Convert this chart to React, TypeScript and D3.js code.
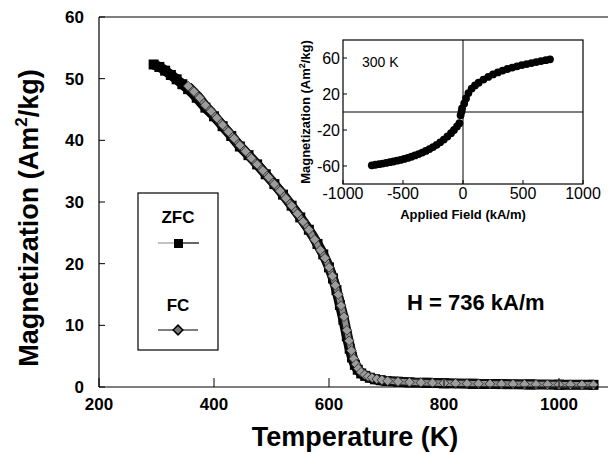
import React, { useEffect, useRef } from "react";
import * as d3 from "d3";

// main plot: magnetization vs temperature
const zfcTemp = [295, 305, 315, 325, 335, 345, 355, 370, 385, 400, 415, 430, 445, 460, 475, 490, 505, 520, 535, 550, 565, 580, 590, 600, 607, 613, 619, 625, 631, 636, 640, 645, 650, 656, 663, 671, 680, 690, 700, 720, 740, 770, 800, 850, 900, 950, 1000, 1060];
const zfcMag = [52.3, 51.9, 51.3, 50.6, 49.9, 49.1, 48.3, 46.9, 45.3, 43.9, 42.3, 40.7, 39.0, 37.6, 36.1, 34.5, 32.9, 31.2, 29.4, 27.5, 25.5, 23.2, 21.5, 19.4, 17.6, 15.7, 13.3, 10.9, 8.2, 6.2, 4.8, 3.6, 2.8, 2.2, 1.8, 1.5, 1.25, 1.1, 0.95, 0.85, 0.75, 0.68, 0.6, 0.52, 0.47, 0.42, 0.38, 0.35];

const fcTemp = [355, 365, 375, 385, 395, 405, 415, 425, 435, 445, 455, 465, 475, 485, 495, 505, 515, 525, 535, 545, 555, 565, 575, 585, 593, 600, 606, 611, 616, 621, 626, 631, 635, 639, 643, 647, 651, 656, 662, 668, 675, 683, 692, 702, 720, 740, 760, 780, 800, 820, 840, 860, 880, 900, 920, 940, 960, 980, 1000, 1020, 1040, 1060];
const fcMag = [48.8, 47.9, 46.9, 45.7, 44.7, 43.6, 42.5, 41.4, 40.3, 39.2, 38.2, 37.1, 36.1, 35.1, 34.0, 32.9, 31.8, 30.6, 29.4, 28.1, 26.8, 25.5, 23.9, 22.2, 20.9, 19.4, 18.0, 16.5, 15.0, 13.2, 11.4, 9.2, 7.5, 5.9, 4.6, 3.7, 3.0, 2.4, 2.0, 1.7, 1.5, 1.3, 1.15, 1.0, 0.88, 0.78, 0.72, 0.66, 0.62, 0.58, 0.55, 0.52, 0.5, 0.48, 0.46, 0.44, 0.42, 0.4, 0.39, 0.37, 0.36, 0.35];

const mainXTicks = [200, 400, 600, 800, 1000];
const mainYTicks = [0, 10, 20, 30, 40, 50, 60];

// inset: hysteresis loop at 300 K
const loopField = [-760, -730, -700, -670, -640, -610, -580, -550, -520, -490, -460, -430, -400, -370, -340, -310, -280, -250, -220, -190, -160, -130, -100, -75, -50, -30, -20, -12, -8, 10, 25, 45, 72, 100, 130, 170, 210, 250, 290, 330, 370, 410, 450, 490, 530, 570, 610, 650, 690, 725];
const loopMag = [-59.3, -58.6, -58.0, -57.3, -56.6, -55.8, -55.0, -54.1, -53.2, -52.1, -51.0, -49.7, -48.3, -46.8, -45.1, -43.3, -41.2, -39.0, -36.5, -33.7, -30.6, -27.2, -23.5, -20.0, -16.0, -12.5, -3.5, 0.5, 4.0, 9.5, 15.0, 21.0, 26.0, 29.5, 32.5, 36.0, 39.0, 41.7, 44.0, 46.0, 47.8, 49.4, 50.8, 52.1, 53.3, 54.4, 55.5, 56.6, 57.6, 58.5];

const insetXTicks = [-1000, -500, 0, 500, 1000];
const insetYTicks = [-60, -20, 20, 60];

const FONT = "'Liberation Sans', Arial, sans-serif";

const MagnetizationChart = () => {
  const svgRef = useRef<SVGSVGElement>(null);

  useEffect(() => {
    const svg = d3.select(svgRef.current);
    svg.selectAll("*").remove();

    const x = d3.scaleLinear().domain([200, 1000]).range([99, 559]);
    const y = d3.scaleLinear().domain([0, 60]).range([387, 17]);

    const g = svg.append("g").attr("font-family", FONT);

    // data first, frame on top of it later
    const zfc = zfcTemp.map((t, i) => [t, zfcMag[i]] as [number, number]);
    const fc = fcTemp.map((t, i) => [t, fcMag[i]] as [number, number]);
    const line = d3.line<[number, number]>()
      .x(d => x(d[0]))
      .y(d => y(d[1]))
      .curve(d3.curveMonotoneX);

    g.append("path").attr("d", line(zfc)).attr("fill", "none")
      .attr("stroke", "#000").attr("stroke-width", 10).attr("stroke-linejoin", "round");
    g.selectAll(".zfc").data(zfc).enter().append("rect")
      .attr("x", d => x(d[0]) - 5).attr("y", d => y(d[1]) - 5)
      .attr("width", 10).attr("height", 10).attr("fill", "#000");

    g.append("path").attr("d", line(fc)).attr("fill", "none")
      .attr("stroke", "#111").attr("stroke-width", 9).attr("stroke-linejoin", "round");
    g.append("path").attr("d", line(fc)).attr("fill", "none")
      .attr("stroke", "#8e8e8e").attr("stroke-width", 5.5).attr("stroke-linejoin", "round");
    const diamond = d3.symbol().type(d3.symbolDiamond2).size(60);
    g.selectAll(".fc").data(fc).enter().append("path")
      .attr("d", diamond)
      .attr("transform", d => `translate(${x(d[0])},${y(d[1])})`)
      .attr("fill", "#9c9c9c").attr("stroke", "#222").attr("stroke-width", 0.8);

    // frame
    g.append("line").attr("x1", 99).attr("x2", 99).attr("y1", y(60)).attr("y2", y(0))
      .attr("stroke", "#000").attr("stroke-width", 1.2);
    g.append("line").attr("x1", 99).attr("x2", 608).attr("y1", y(0)).attr("y2", y(0))
      .attr("stroke", "#000").attr("stroke-width", 1.2);
    g.append("line").attr("x1", 99).attr("x2", 608).attr("y1", y(60)).attr("y2", y(60))
      .attr("stroke", "#000").attr("stroke-width", 1.2);

    mainXTicks.forEach(t => {
      g.append("line").attr("x1", x(t)).attr("x2", x(t)).attr("y1", y(0)).attr("y2", y(0) - 9)
        .attr("stroke", "#000");
      g.append("text").attr("x", x(t)).attr("y", 410).attr("text-anchor", "middle")
        .attr("font-size", 17).attr("font-weight", "bold").text(t);
    });
    mainYTicks.forEach(t => {
      g.append("line").attr("x1", 99).attr("x2", 105).attr("y1", y(t)).attr("y2", y(t))
        .attr("stroke", "#000");
      g.append("text").attr("x", 84).attr("y", y(t)).attr("dy", "0.35em").attr("text-anchor", "end")
        .attr("font-size", 17).attr("font-weight", "bold").text(t);
    });

    g.append("text").attr("x", 355).attr("y", 446).attr("text-anchor", "middle")
      .attr("font-size", 27).attr("font-weight", "bold").text("Temperature (K)");

    const yTitle = g.append("text")
      .attr("transform", "translate(38,218) rotate(-90)")
      .attr("text-anchor", "middle")
      .attr("font-size", 27).attr("font-weight", "bold");
    yTitle.append("tspan").text("Magnetization (Am");
    yTitle.append("tspan").attr("font-size", 17).attr("dy", -11).text("2");
    yTitle.append("tspan").attr("dy", 11).text("/kg)");

    g.append("text").attr("x", 407).attr("y", 310)
      .attr("font-size", 22).attr("font-weight", "bold").text("H = 736 kA/m");

    // legend
    const lg = g.append("g");
    lg.append("rect").attr("x", 138).attr("y", 193).attr("width", 80).attr("height", 157)
      .attr("fill", "#fff").attr("stroke", "#000").attr("stroke-width", 1.2);
    lg.append("text").attr("x", 178).attr("y", 223).attr("text-anchor", "middle")
      .attr("font-size", 17).attr("font-weight", "bold").text("ZFC");
    lg.append("line").attr("x1", 158).attr("x2", 178).attr("y1", 243).attr("y2", 243)
      .attr("stroke", "#999").attr("stroke-width", 1.2);
    lg.append("line").attr("x1", 178).attr("x2", 199).attr("y1", 243).attr("y2", 243)
      .attr("stroke", "#000").attr("stroke-width", 1.2);
    lg.append("rect").attr("x", 174).attr("y", 239).attr("width", 9).attr("height", 9).attr("fill", "#000");
    lg.append("text").attr("x", 178).attr("y", 311).attr("text-anchor", "middle")
      .attr("font-size", 17).attr("font-weight", "bold").text("FC");
    lg.append("line").attr("x1", 158).attr("x2", 198).attr("y1", 330).attr("y2", 330)
      .attr("stroke", "#000").attr("stroke-width", 1.2);
    lg.append("path").attr("d", diamond).attr("transform", "translate(178,330)")
      .attr("fill", "#777").attr("stroke", "#000").attr("stroke-width", 1.5);

    // inset
    const ix = d3.scaleLinear().domain([-1000, 1000]).range([343, 583]);
    const iy = d3.scaleLinear().domain([-80, 80]).range([184, 40]);
    const ig = g.append("g");
    ig.append("rect").attr("x", 343).attr("y", 40).attr("width", 240).attr("height", 144)
      .attr("fill", "#fff").attr("stroke", "#000").attr("stroke-width", 1.2);
    ig.append("line").attr("x1", ix(0)).attr("x2", ix(0)).attr("y1", 40).attr("y2", 184).attr("stroke", "#000");
    ig.append("line").attr("x1", 343).attr("x2", 583).attr("y1", iy(0)).attr("y2", iy(0)).attr("stroke", "#000");

    insetXTicks.forEach(t => {
      ig.append("line").attr("x1", ix(t)).attr("x2", ix(t)).attr("y1", 184).attr("y2", 180).attr("stroke", "#000");
      ig.append("text").attr("x", ix(t)).attr("y", 199).attr("text-anchor", "middle")
        .attr("font-size", 16).text(t);
    });
    insetYTicks.forEach(t => {
      ig.append("line").attr("x1", 343).attr("x2", 347).attr("y1", iy(t)).attr("y2", iy(t)).attr("stroke", "#000");
      ig.append("text").attr("x", 340).attr("y", iy(t)).attr("dy", "0.35em").attr("text-anchor", "end")
        .attr("font-size", 16).text(t);
    });

    ig.append("text").attr("x", 362).attr("y", 67).attr("font-size", 14).text("300 K");
    ig.append("text").attr("x", 463).attr("y", 219).attr("text-anchor", "middle")
      .attr("font-size", 13).attr("font-weight", "bold").text("Applied Field (kA/m)");
    const iyTitle = ig.append("text")
      .attr("transform", "translate(310,112) rotate(-90)")
      .attr("text-anchor", "middle")
      .attr("font-size", 13).attr("font-weight", "bold");
    iyTitle.append("tspan").text("Magnetization (Am");
    iyTitle.append("tspan").attr("font-size", 9).attr("dy", -5).text("2");
    iyTitle.append("tspan").attr("dy", 5).text("/kg)");

    ig.selectAll(".dot").data(loopField).enter().append("circle")
      .attr("cx", d => ix(d)).attr("cy", (d, i) => iy(loopMag[i]))
      .attr("r", 3.9).attr("fill", "#000");
  }, []);

  return (
    <svg ref={svgRef} width={608} height={454}
      style={{ position: "absolute", left: 0, top: 0, background: "#fff" }} />
  );
};

export default function App() {
  return <MagnetizationChart />;
}
